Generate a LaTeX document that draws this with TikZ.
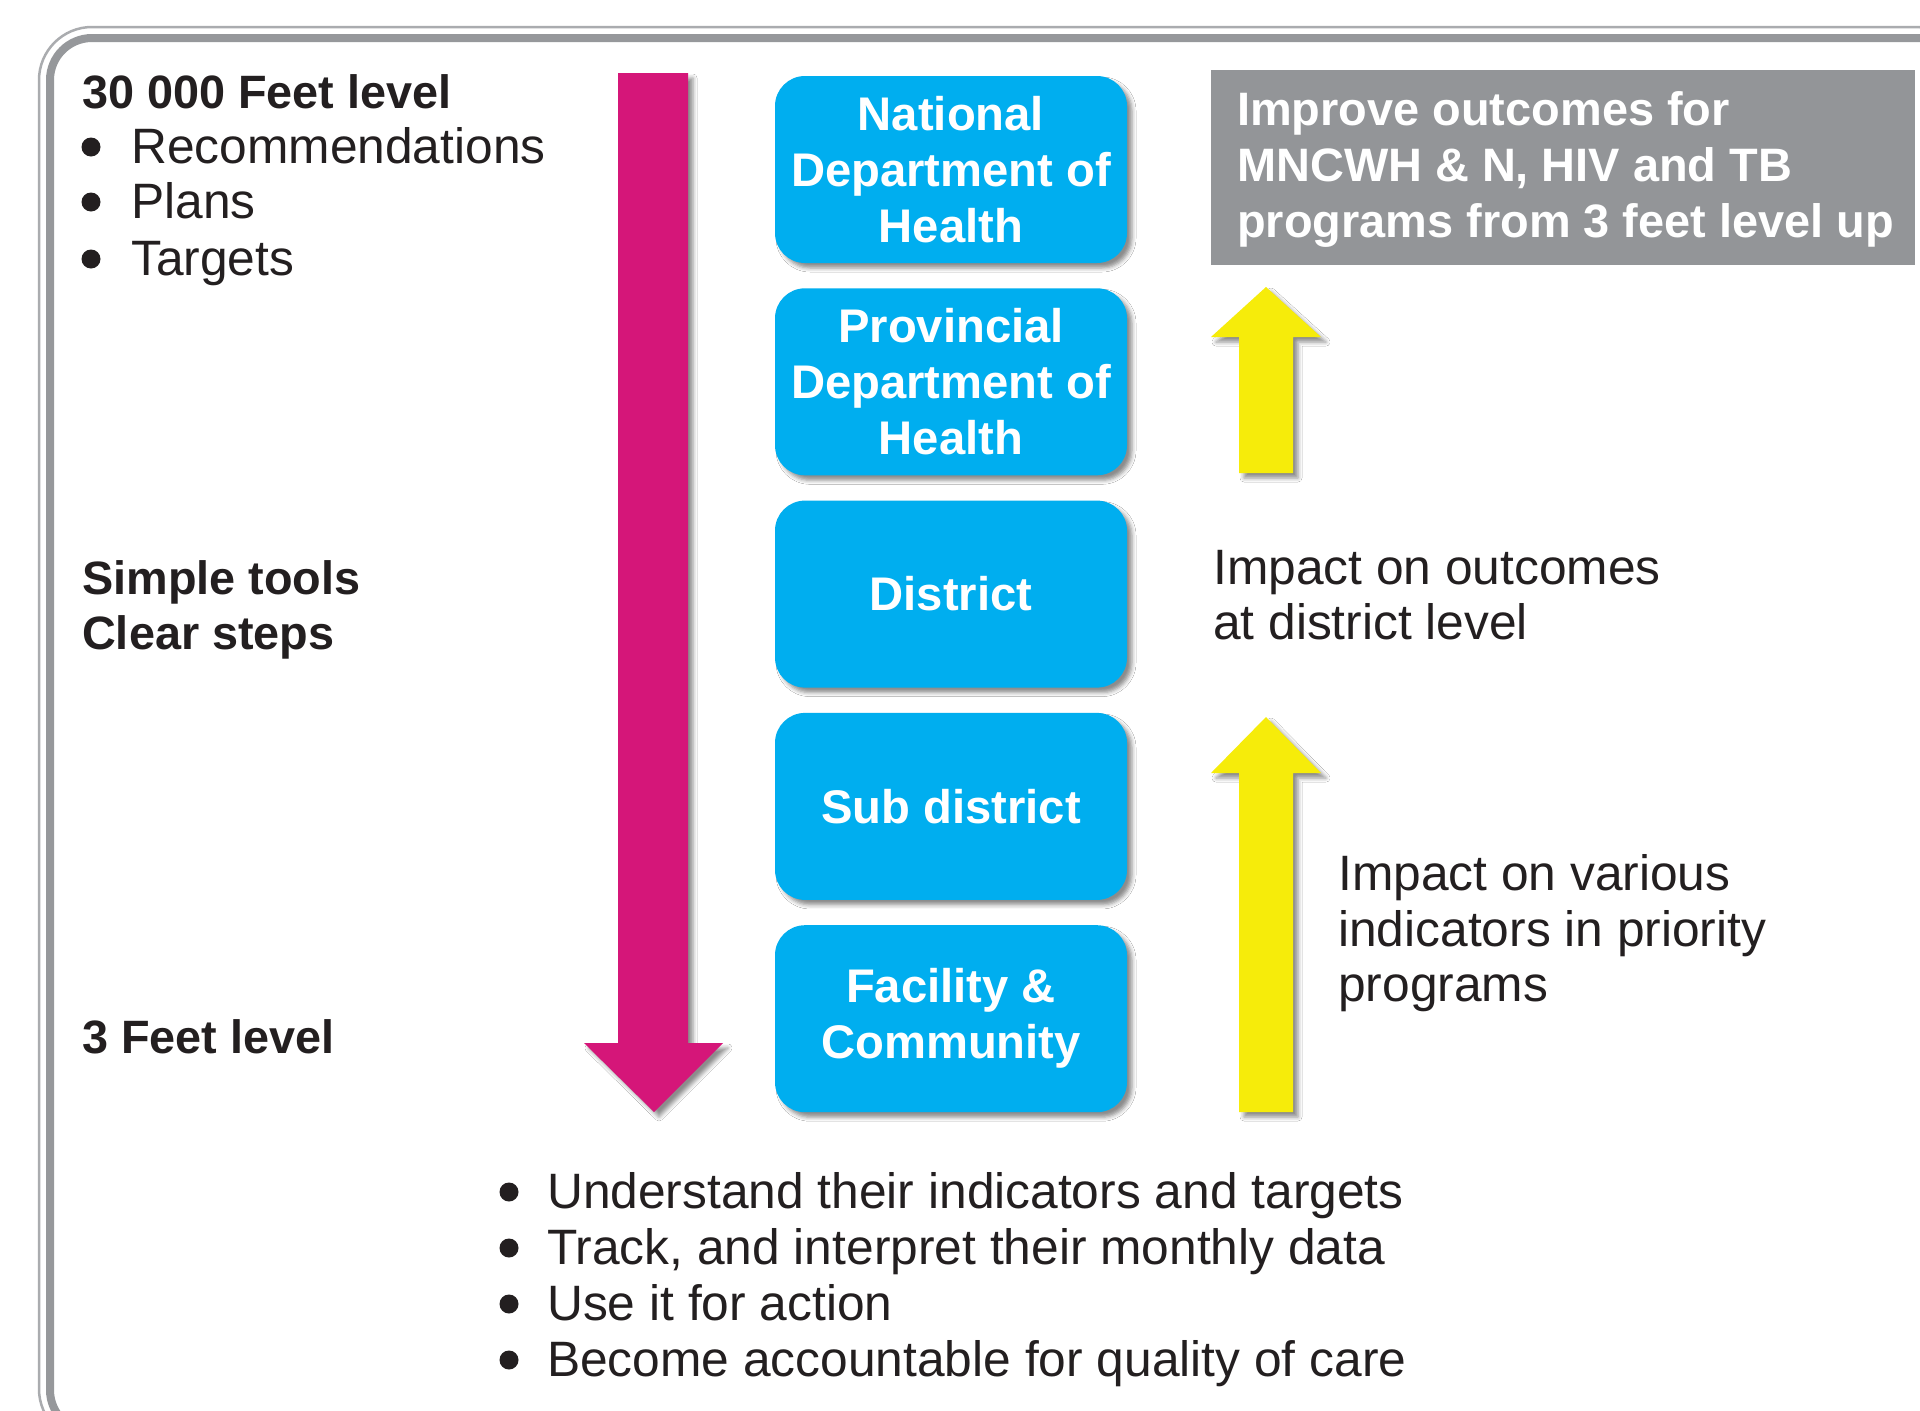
\documentclass[tikz,border=0pt]{standalone}
\usepackage{fontspec}
\setmainfont{Liberation Sans}
\usetikzlibrary{shadows.blur}
\definecolor{boxblue}{RGB}{0,174,239}
\definecolor{arrowpink}{RGB}{213,22,121}
\definecolor{arrowyellow}{RGB}{246,236,10}
\definecolor{panelgray}{RGB}{147,149,152}
\definecolor{framegray}{RGB}{150,152,155}
\definecolor{framelight}{RGB}{170,172,175}
\definecolor{inkblack}{RGB}{35,31,32}
\begin{document}
\begin{tikzpicture}[x=1pt,y=-1pt,
  dropshade/.style={blur shadow={shadow xshift=5pt,shadow yshift=-5pt,shadow blur radius=4pt,shadow opacity=45}},
  tierbox/.style={dropshade, fill=boxblue, rounded corners=30pt, minimum width=352pt, minimum height=187pt,
    text=white, font=\bfseries\fontsize{47.2}{56}\selectfont, align=center, inner sep=0pt},
  plaintxt/.style={anchor=base west, inner sep=0pt, text=inkblack, font=\fontsize{49.7}{56}\selectfont},
  boldtxt/.style={anchor=base west, inner sep=0pt, text=inkblack, font=\bfseries\fontsize{46.8}{56}\selectfont},
  whitetxt/.style={anchor=base west, inner sep=0pt, text=white, font=\bfseries\fontsize{46.9}{56}\selectfont},
  bulletdot/.style={circle, fill=inkblack, inner sep=0pt, minimum size=19pt},
]
\useasboundingbox (0,0) rectangle (1920,1411);
\clip (0,0) rectangle (1920,1411);
\fill[white] (0,0) rectangle (1920,1411);

% frame (double grey line, rounded)
\draw[framelight, line width=2.5pt, rounded corners=53pt] (39,27) rectangle (1968,1442);
\draw[framegray, line width=8pt, rounded corners=42pt] (50,38) rectangle (1958,1432);

% left texts
\node[boldtxt] (head) at (82,108) {30 000 Feet level};
\node[bulletdot] (b1) at (91,147) {};
\node[plaintxt] (rec) at (131,163) {Recommendations};
\node[bulletdot] (b2) at (91,202) {};
\node[plaintxt] (plans) at (131,218) {Plans};
\node[bulletdot] (b3) at (91,259) {};
\node[plaintxt] (targets) at (131,275) {Targets};
\node[boldtxt] (simple) at (82,594) {Simple tools};
\node[boldtxt] (clear) at (82,649) {Clear steps};
\node[boldtxt] (three) at (82,1053) {3 Feet level};

% pink downward arrow
\fill[arrowpink, dropshade] (618,73) -- (688,73) -- (688,1043) -- (723,1043) -- (654,1112) -- (584,1043) -- (618,1043) -- cycle;

% blue level boxes
\node[tierbox] (national) at (951,169.5) {National\\Department of\\Health};
\node[tierbox] (provincial) at (951,381.8) {Provincial\\Department of\\Health};
\node[tierbox] (district) at (951,594.1) {District};
\node[tierbox] (subdistrict) at (951,806.4) {Sub district};
\node[tierbox] (facility) at (951,1018.7) {Facility \&\\Community};

% grey goal panel
\node[fill=panelgray, anchor=north west, minimum width=704pt, minimum height=195pt, inner sep=0pt] (goal) at (1211,70) {};
\node[whitetxt] (g1) at (1237,125) {Improve outcomes for};
\node[whitetxt] (g2) at (1237,181) {MNCWH \& N, HIV and TB};
\node[whitetxt] (g3) at (1237,237) {programs from 3 feet level up};

% yellow upward arrows
\fill[arrowyellow, dropshade] (1239,473) -- (1239,337) -- (1211,337) -- (1266,287) -- (1321,337) -- (1293,337) -- (1293,473) -- cycle;
\fill[arrowyellow, dropshade] (1239,1112) -- (1239,773) -- (1211,773) -- (1266,717) -- (1321,773) -- (1293,773) -- (1293,1112) -- cycle;

% right texts
\node[plaintxt] (imp1) at (1213,584) {Impact on outcomes};
\node[plaintxt] (imp2) at (1213,639) {at district level};
\node[plaintxt] (var1) at (1338,890) {Impact on various};
\node[plaintxt] (var2) at (1338,946) {indicators in priority};
\node[plaintxt] (var3) at (1338,1001) {programs};

% bottom bullet list
\node[bulletdot] (d1) at (509,1192) {};
\node[plaintxt] (u1) at (547,1208) {Understand their indicators and targets};
\node[bulletdot] (d2) at (509,1248) {};
\node[plaintxt] (u2) at (547,1264) {Track, and interpret their monthly data};
\node[bulletdot] (d3) at (509,1304) {};
\node[plaintxt] (u3) at (547,1320) {Use it for action};
\node[bulletdot] (d4) at (509,1360) {};
\node[plaintxt] (u4) at (547,1376) {Become accountable for quality of care};
\end{tikzpicture}
\end{document}
